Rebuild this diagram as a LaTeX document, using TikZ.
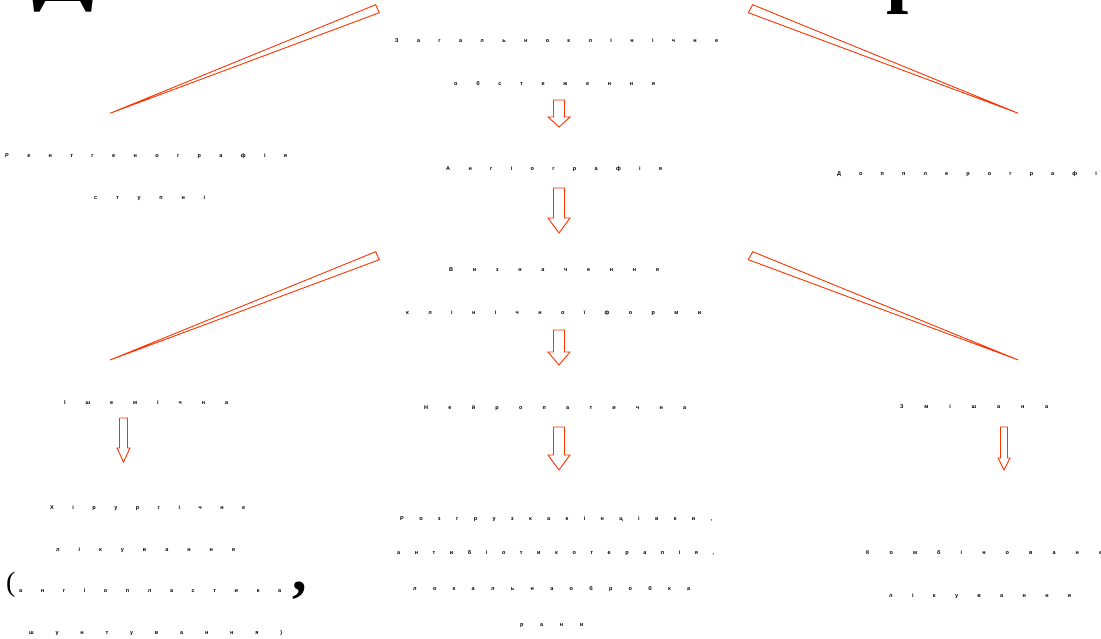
\documentclass[tikz,border=0pt]{standalone}
\usepackage{fontspec}
\setmainfont{Liberation Serif}
\newfontfamily\dotfont{Liberation Sans}
\definecolor{arrowred}{RGB}{255,51,0}
\def\spreadloop#1{\ifx#1\relax\else#1\hfill\expandafter\spreadloop\fi}
\newcommand\spreadtext[2]{\hbox to #1{\spreadloop#2\relax\unskip}}
\tikzset{
  lettertext/.style={anchor=base west, inner sep=0pt, font=\dotfont\bfseries\fontsize{5.5}{6}\selectfont},
  bigglyph/.style={anchor=base west, inner sep=0pt, text=black},
  blockarrow/.style={draw=arrowred, line width=0.9pt, fill=white, line join=miter},
  wedge/.style={draw=arrowred, line width=0.9pt, line join=miter}
}
\newcommand\spreadline[5]{\node[lettertext] (#1) at (#2,{#4+1.5}) {\spreadtext{\dimexpr #3pt-#2pt\relax}{#5}};}
\newcommand\blockdown[6]{% cx, ytop, yhead, ytip, hs, hh
  \draw[blockarrow] ({#1-#5},#2) -- ({#1+#5},#2) -- ({#1+#5},#3) -- ({#1+#6},#3) -- (#1,#4) -- ({#1-#6},#3) -- ({#1-#5},#3) -- cycle;}
\begin{document}
\begin{tikzpicture}[x=1pt, y=-1pt]
\useasboundingbox (0,0) rectangle (1101,639);
% fragments of a large title above the frame
\node[bigglyph, font=\bfseries\fontsize{50}{50}\selectfont, xscale=1.8, transform shape] (titleD) at (32,1.5) {Д};
\node[bigglyph, font=\bfseries\fontsize{80}{80}\selectfont] (titleR) at (886,-2) {р};
% text lines
\spreadline{t1}{395}{718}{41}{Загальноклінічне}
\spreadline{t2}{454}{655}{84}{обстеження}
\spreadline{l1}{5}{287}{156}{Рентгенографія}
\spreadline{l2}{94}{205}{198}{ступні}
\spreadline{c1}{446}{662}{169}{Ангіографія}
\spreadline{r1}{837}{1118}{174}{Допплерографія}
\spreadline{c2a}{449}{659}{270}{Визначення}
\spreadline{c2b}{406}{701}{313}{клінічної форми}
\spreadline{l3}{64}{228}{403}{Ішемічна}
\spreadline{c3}{424}{686}{408}{Нейропатична}
\spreadline{r3}{900}{1048}{407}{Змішана}
\spreadline{l4a}{50}{245}{508}{Хірургічне}
\spreadline{l4b}{56}{235}{550}{лікування}
\spreadline{l4c}{19}{281}{591}{ангіопластика}
\spreadline{l4d}{29}{282}{633}{шунтування)}
\spreadline{c4a}{400}{712}{519}{Розгрузка кінцівки,}
\spreadline{c4b}{397}{714}{553}{антибіотикотерапія,}
\spreadline{c4c}{413}{690}{589}{локальна обробка}
\spreadline{c4d}{520}{583}{625}{рани}
\spreadline{r4a}{866}{1102}{553}{Комбіноване}
\spreadline{r4b}{889}{1071}{596}{лікування}
\node[bigglyph, font=\fontsize{28}{28}\selectfont] (lparen) at (6,591) {(};
\node[bigglyph, font=\bfseries\fontsize{58}{58}\selectfont] (bigcomma) at (292,590) {,};
% thin wedge connectors
\coordinate (w1a) at (375.7,4.7); \coordinate (w1b) at (379.3,12.7); \coordinate (w1t) at (110,113.3);
\coordinate (w2a) at (752.7,4.7); \coordinate (w2b) at (748.3,12.7); \coordinate (w2t) at (1018.3,113.3);
\coordinate (w3a) at (375.7,251.7); \coordinate (w3b) at (379.3,259.7); \coordinate (w3t) at (110,360);
\coordinate (w4a) at (752.7,251.7); \coordinate (w4b) at (748.3,259.7); \coordinate (w4t) at (1018.3,360);
\draw[wedge] (w1a) -- (w1b) -- (w1t) -- cycle;
\draw[wedge] (w2a) -- (w2b) -- (w2t) -- cycle;
\draw[wedge] (w3a) -- (w3b) -- (w3t) -- cycle;
\draw[wedge] (w4a) -- (w4b) -- (w4t) -- cycle;
% block arrows
\blockdown{559}{100}{117}{127}{5.5}{11}
\blockdown{559}{188}{218}{233}{5.5}{11}
\blockdown{559}{330}{352}{365}{5.5}{11}
\blockdown{559}{427}{455}{470}{5.5}{11}
\blockdown{123.5}{418}{448}{462}{4}{6.5}
\blockdown{1004}{427}{458}{470}{3.5}{6}
\end{tikzpicture}
\end{document}
